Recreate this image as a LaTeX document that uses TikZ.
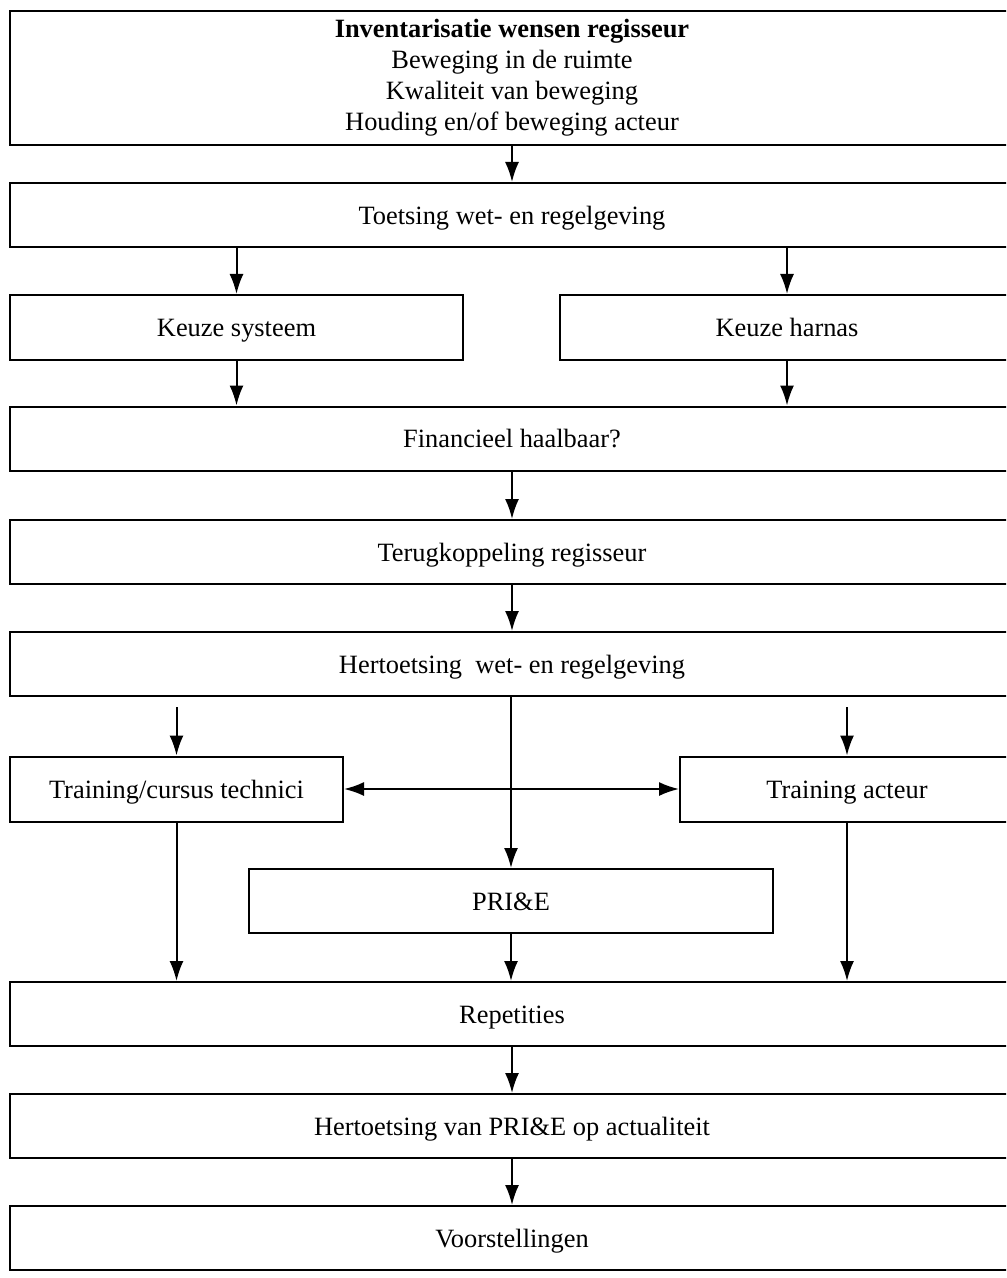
\documentclass[tikz,border=0pt]{standalone}
\usepackage{fontspec}
\setmainfont{Liberation Serif}
\usetikzlibrary{arrows.meta, positioning}
\tikzset{
    stapbox/.style={draw, line width=1pt, inner sep=0pt, align=center, font=\fontsize{13.2}{15.5}\selectfont},
    enkel/.style={stapbox, text height=1.7ex+3pt, text depth=0.35ex},
    breed/.style={enkel, minimum width=502pt, minimum height=32pt},
    pijl/.style={-{Latex[length=10pt, width=7pt]}, line width=1pt},
}
\begin{document}
\begin{tikzpicture}[x=0.5pt, y=-0.5pt]
    \clip (0,0) rectangle (1006,1278);
    % Wensen en toetsing
    \node[stapbox, minimum width=502pt, minimum height=67pt] (wensen) at (512,78) {\textbf{Inventarisatie wensen regisseur}\\Beweging in de ruimte\\Kwaliteit van beweging\\Houding en/of beweging acteur};
    \node[breed] (toetsing) at (512,215) {Toetsing wet- en regelgeving};

    % Keuzes
    \node[enkel, minimum width=226.5pt, minimum height=32.5pt] (systeem) at (236.5,327.5) {Keuze systeem};
    \node[enkel, minimum width=227pt, minimum height=32.5pt] (harnas) at (787,327.5) {Keuze harnas};

    \node[breed] (financieel) at (512,438.5) {Financieel haalbaar?};
    \node[breed] (terug) at (512,552) {Terugkoppeling regisseur};
    \node[breed] (hertoetsing) at (512,664) {Hertoetsing~ wet- en regelgeving};

    % Training en PRI&E
    \node[enkel, minimum width=166.5pt, minimum height=32.5pt] (technici) at (176.5,789) {Training/cursus technici};
    \node[enkel, minimum width=167pt, minimum height=32.5pt] (acteur) at (847,789) {Training acteur};
    \node[enkel, minimum width=262pt, minimum height=32pt] (prie) at (511,901) {PRI\&E};

    % Uitvoering
    \node[breed] (repetities) at (512,1014) {Repetities};
    \node[breed] (actualiteit) at (512,1126) {Hertoetsing van PRI\&E op actualiteit};
    \node[breed] (voorstellingen) at (512,1238) {Voorstellingen};

    \coordinate (startT) at (176.5,707);
    \coordinate (startA) at (847,707);

    % Pijlen
    \draw[pijl] (wensen) -- (toetsing);
    \draw[pijl] (toetsing.south -| systeem.north) -- (systeem.north);
    \draw[pijl] (toetsing.south -| harnas.north) -- (harnas.north);
    \draw[pijl] (systeem.south) -- (financieel.north -| systeem.south);
    \draw[pijl] (harnas.south) -- (financieel.north -| harnas.south);
    \draw[pijl] (financieel) -- (terug);
    \draw[pijl] (terug) -- (hertoetsing);
    \draw[pijl] (startT) -- (technici.north);
    \draw[pijl] (startA) -- (acteur.north);
    \draw[pijl] (hertoetsing.south -| prie.north) -- (prie.north);
    \draw[pijl, {Latex[length=10pt, width=7pt]}-{Latex[length=10pt, width=7pt]}] (technici.east) -- (acteur.west);
    \draw[pijl] (technici.south) -- (repetities.north -| technici.south);
    \draw[pijl] (acteur.south) -- (repetities.north -| acteur.south);
    \draw[pijl] (prie.south) -- (repetities.north -| prie.south);
    \draw[pijl] (repetities) -- (actualiteit);
    \draw[pijl] (actualiteit) -- (voorstellingen);
\end{tikzpicture}
\end{document}
